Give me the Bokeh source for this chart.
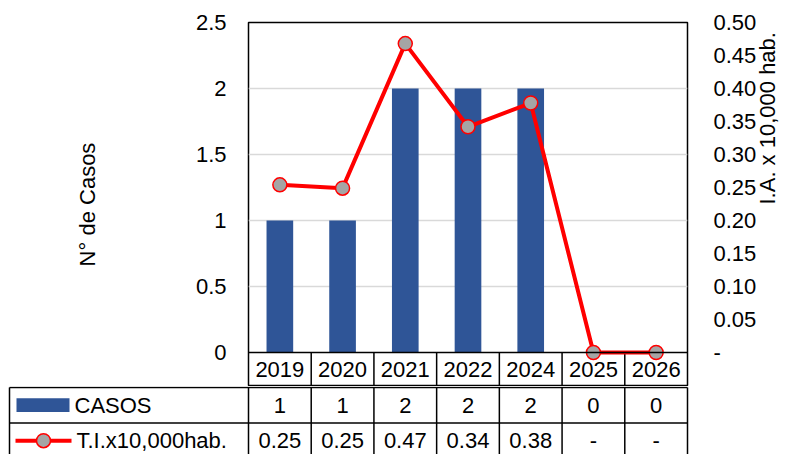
import math
from bokeh.plotting import figure
from bokeh.models import (Range1d, LinearAxis, FixedTicker, CustomJSTickFormatter,
                          Span, FactorRange)
from bokeh.core.properties import value
from bokeh.embed import file_html
from bokeh.resources import INLINE

# ---------------- data ----------------
years = ["2019", "2020", "2021", "2022", "2024", "2025", "2026"]
casos = [1, 1, 2, 2, 2, 0, 0]
tasa = [0.254, 0.249, 0.468, 0.342, 0.378, 0, 0]
left_ticks = [0, 0.5, 1, 1.5, 2, 2.5]
right_ticks = [0, 0.05, 0.1, 0.15, 0.2, 0.25, 0.3, 0.35, 0.4, 0.45, 0.5]
grid_ticks = [0.5, 1, 1.5, 2]
serie_casos = "CASOS"
serie_tasa = "T.I.x10,000hab."
label_left = "N° de Casos"
label_right = "I.A. x 10,000 hab."

# ---------------- style / layout ----------------
FONT_NAME = "Liberation Sans"
FONT = value(FONT_NAME)
FS = "22px"
BLUE = "#2F5597"
RED = "#FF0000"
GREY = "#A5A5A5"
W = 799
BL, BR, BT = 248, 112, 22
FRAME_W = W - BL - BR          # 439
PLOT_H = 330                   # 0 .. max
HEAD_H = 34                    # year header row inside the frame
H1 = BT + PLOT_H + HEAD_H      # 386
CAT = FRAME_W / len(years)
ROW = 36
H2 = 454 - H1                  # 68

lmax, rmax = left_ticks[-1], right_ticks[-1]
lstart = -lmax * HEAD_H / PLOT_H
rstart = -rmax * HEAD_H / PLOT_H

p = figure(width=W, height=H1, x_range=FactorRange(factors=years),
           y_range=Range1d(lstart, lmax), output_backend="svg",
           toolbar_location=None, x_axis_location=None,
           min_border_left=BL, min_border_right=BR, min_border_top=BT,
           min_border_bottom=0)
p.outline_line_color = "black"
p.outline_line_width = 1.5
p.background_fill_color = "white"
p.extra_y_ranges = {"ia": Range1d(rstart, rmax)}

# grid
p.xgrid.visible = False
p.ygrid.ticker = FixedTicker(ticks=grid_ticks)
p.ygrid.grid_line_color = "#D9D9D9"
p.ygrid.grid_line_width = 1.5


def style_axis(ax, standoff, label=None, label_standoff=0):
    ax.axis_line_color = None
    ax.major_tick_line_color = None
    ax.minor_tick_line_color = None
    ax.major_tick_out = 0
    ax.major_tick_in = 0
    ax.minor_tick_out = 0
    ax.minor_tick_in = 0
    ax.major_label_standoff = standoff
    ax.major_label_text_font = FONT_NAME
    ax.major_label_text_font_size = FS
    ax.major_label_text_color = "black"
    if label is not None:
        ax.axis_label = label
        ax.axis_label_text_font = FONT_NAME
        ax.axis_label_text_font_size = FS
        ax.axis_label_text_font_style = "normal"
        ax.axis_label_text_color = "black"
        ax.axis_label_standoff = label_standoff


# left axis: tick labels
ya = p.yaxis[0]
ya.ticker = FixedTicker(ticks=left_ticks)
ya.formatter = CustomJSTickFormatter(code="return String(tick);")
style_axis(ya, 22)
# left axis title (its bounds centre the title where the reference has it)
ya2 = LinearAxis(ticker=FixedTicker(ticks=[]), bounds=(0, 2.09))
style_axis(ya2, 0, label_left, 93)
p.add_layout(ya2, "left")

# right axis: tick labels
ra = LinearAxis(y_range_name="ia", ticker=FixedTicker(ticks=right_ticks),
                formatter=CustomJSTickFormatter(
                    code="return tick == 0 ? '-' : tick.toFixed(2);"))
style_axis(ra, 26)
p.add_layout(ra, "right")
# right axis title, reading upwards
ra2 = LinearAxis(y_range_name="ia", ticker=FixedTicker(ticks=[]), bounds=(0, 0.224))
style_axis(ra2, 0, label_right, 8)
ra2.axis_label_orientation = math.pi / 2
p.add_layout(ra2, "right")

# bars
p.vbar(x=years, top=casos, width=0.425, fill_color=BLUE, line_color=None)

# zero line and header row of the data table (category boundaries are synthetic
# coordinates 1..n-1 of the factor range)
p.add_layout(Span(location=0, dimension="width", line_color="black", line_width=1.5))
bounds = list(range(1, len(years)))
p.segment(x0=bounds, y0=[0] * len(bounds), x1=bounds, y1=[lstart] * len(bounds),
          line_color="black", line_width=1.5)
p.text(x=years, y=[lstart / 2] * len(years), text=years, text_align="center",
       text_baseline="middle", text_font=FONT, text_font_size=FS, text_color="black")

# line series
p.line(x=years, y=tasa, y_range_name="ia", line_color=RED, line_width=4)
p.scatter(x=years, y=tasa, y_range_name="ia", size=14, fill_color=GREY,
          line_color=RED, line_width=1.5)

# ---------------- data table rows ----------------
tx0 = -BL / CAT
tx1 = (W - BL) / CAT


def px(xpix):
    return (xpix - BL) / CAT


t = figure(width=W, height=H2, x_range=Range1d(tx0, tx1),
           y_range=Range1d(H2 / ROW, -1 / ROW), output_backend="svg",
           toolbar_location=None, x_axis_location=None, y_axis_location=None,
           min_border=0)
t.outline_line_color = None
t.grid.visible = False

xl = px(9)
n = len(years)
ybot = H2 / ROW + 0.1
# horizontal lines
t.segment(x0=[xl, xl], y0=[0, 1], x1=[n, n], y1=[0, 1], line_color="black", line_width=1.5)
# vertical lines
vx = [xl] + list(range(n + 1))
t.segment(x0=vx, y0=[0] * len(vx), x1=vx, y1=[ybot] * len(vx), line_color="black", line_width=1.5)

cx = [i + 0.5 for i in range(n)]
t.text(x=cx, y=[0.5] * n, text=[str(c) for c in casos], text_align="center",
       text_baseline="middle", text_font=FONT, text_font_size=FS, text_color="black")
t.text(x=cx, y=[1.5] * n, text=[f"{v:.2f}" if v else "-" for v in tasa],
       text_align="center", text_baseline="middle", text_font=FONT,
       text_font_size=FS, text_color="black")

# legend keys
t.quad(left=[px(16)], right=[px(69)], top=[11 / ROW], bottom=[25 / ROW],
       fill_color=BLUE, line_color=None)
t.text(x=[px(74)], y=[0.5], text=[serie_casos], text_align="left",
       text_baseline="middle", text_font=FONT, text_font_size=FS, text_color="black")
t.line(x=[px(15), px(71)], y=[1.5, 1.5], line_color=RED, line_width=4)
t.scatter(x=[px(43)], y=[1.5], size=14, fill_color=GREY, line_color=RED, line_width=1.5)
t.text(x=[px(76)], y=[1.5], text=[serie_tasa], text_align="left",
       text_baseline="middle", text_font=FONT, text_font_size=FS, text_color="black")

open("out.html", "w").write(file_html([p, t], INLINE))
